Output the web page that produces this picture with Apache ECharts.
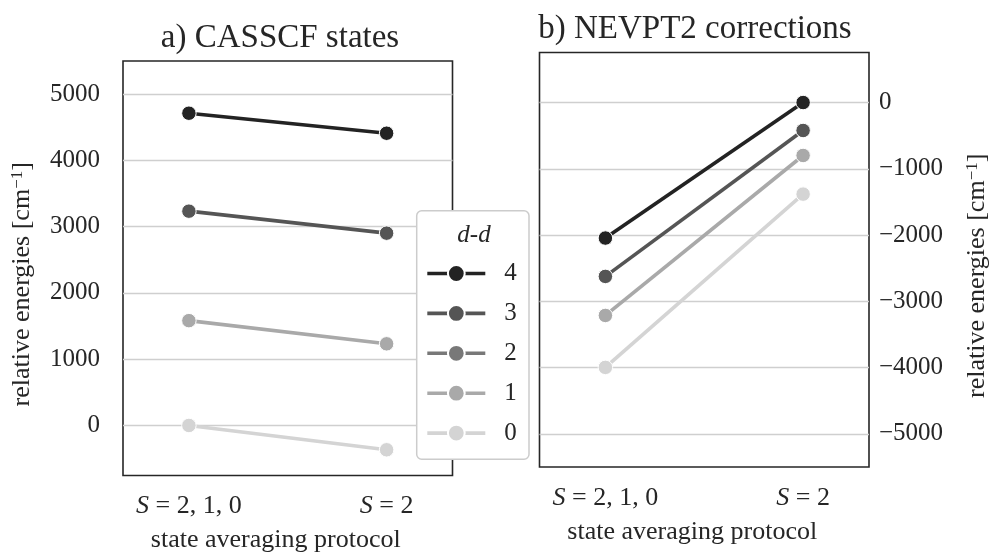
<!DOCTYPE html>
<html>
<head>
<meta charset="utf-8">
<script src="https://cdn.jsdelivr.net/npm/echarts@6/dist/echarts.min.js"></script>
<style>
  html, body { margin: 0; padding: 0; background: #fff; }
  #chart { width: 993px; height: 554px; }
</style>
</head>
<body>
<div id="chart"></div>
<script>
// State averaging protocols (x categories) and d-d excitation levels
const protocols = ['S = 2, 1, 0', 'S = 2'];
const ddLevels = ['4', '3', '2', '1', '0'];

// a) CASSCF relative energies [cm^-1], one value per protocol
const casscf4 = [4712, 4410];
const casscf3 = [3234, 2902];
const casscf2 = [null, null];
const casscf1 = [1582, 1232];
const casscf0 = [0, -367];

// b) NEVPT2 corrections [cm^-1], one value per protocol
const nevpt4 = [-2045, 0];
const nevpt3 = [-2624, -422];
const nevpt2 = [null, null];
const nevpt1 = [-3213, -799];
const nevpt0 = [-3997, -1382];

// Tick labels of the two energy axes
const casscfTicks = [0, 1000, 2000, 3000, 4000, 5000];
const nevptTicks = [-5000, -4000, -3000, -2000, -1000, 0];

const ddColors = ['#232323', '#555555', '#787878', '#a9a9a9', '#d4d4d4'];
const casscfSets = [casscf4, casscf3, casscf2, casscf1, casscf0];
const nevptSets = [nevpt4, nevpt3, nevpt2, nevpt1, nevpt0];

const FONT = 'Liberation Serif';
const INK = '#262626';
const protoIdx = protocols.map((_, i) => i);

function lineSeries(name, values, color, panel) {
  return {
    type: 'line',
    name: name,
    xAxisIndex: panel,
    yAxisIndex: panel,
    data: values.map((v, i) => [protoIdx[i], v]),
    color: color,
    symbol: 'circle',
    symbolSize: 14.5,
    showSymbol: true,
    lineStyle: { width: 3.6, color: color },
    itemStyle: { color: color, borderColor: '#ffffff', borderWidth: 1 },
    emphasis: { disabled: true },
    z: 2
  };
}

const series = [];
ddLevels.forEach((lvl, k) => {
  series.push(lineSeries(lvl, casscfSets[k], ddColors[k], 0));
  series.push(lineSeries(lvl, nevptSets[k], ddColors[k], 1));
});

const minus = v => (v < 0 ? '\u2212' + Math.abs(v) : String(v));
const protoLabel = v => protocols[v].replace('S', '{i|S}');

function xAxis(panel) {
  return {
    gridIndex: panel,
    type: 'value',
    min: -1 / 3,
    max: 4 / 3,
    axisLine: { show: false },
    axisTick: { show: false, customValues: protoIdx },
    splitLine: { show: false },
    axisLabel: {
      customValues: protoIdx,
      formatter: protoLabel,
      margin: 18,
      fontSize: 26,
      fontFamily: FONT,
      color: INK,
      rich: { i: { fontStyle: 'italic', fontSize: 26, fontFamily: FONT, color: INK } }
    },
    name: 'state averaging protocol',
    nameLocation: 'middle',
    nameGap: 52,
    nameTextStyle: { fontSize: 26, fontFamily: FONT, color: INK, padding: [0, 24, 0, 0] }
  };
}

function yAxis(panel, min, max, ticks, side, margin, gap) {
  return {
    gridIndex: panel,
    type: 'value',
    position: side,
    min: min,
    max: max,
    axisLine: { show: false },
    axisTick: { show: false, customValues: ticks },
    axisLabel: {
      customValues: ticks,
      formatter: minus,
      margin: margin,
      fontSize: 25,
      fontFamily: FONT,
      color: INK
    },
    splitLine: { show: true, lineStyle: { color: '#cfcfcf', width: 1.4 } },
    name: 'relative energies [cm{sup|\u22121}]',
    nameLocation: 'middle',
    nameRotate: 90,
    nameGap: gap,
    nameTextStyle: {
      fontSize: 26,
      fontFamily: FONT,
      color: INK,
      padding: [0, 32, 0, 0],
      rich: { sup: { fontSize: 17, fontFamily: FONT, color: INK, verticalAlign: 'top', lineHeight: 17 } }
    }
  };
}

const chart = echarts.init(document.getElementById('chart'), null, { renderer: 'canvas' });
chart.setOption({
  animation: false,
  backgroundColor: '#ffffff',
  grid: [
    { left: 123, top: 61, width: 329.5, height: 414.5, outerBoundsMode: 'none', containLabel: false,
      show: true, borderColor: INK, borderWidth: 1.6, backgroundColor: '#fff' },
    { left: 539.5, top: 52.5, width: 329.5, height: 414.5, outerBoundsMode: 'none', containLabel: false,
      show: true, borderColor: INK, borderWidth: 1.6, backgroundColor: '#fff' }
  ],
  xAxis: [xAxis(0), xAxis(1)],
  yAxis: [
    yAxis(0, -755, 5500, casscfTicks, 'left', 23, 88),
    yAxis(1, -5500, 755, nevptTicks, 'right', 10, 95)
  ],
  legend: {
    data: ddLevels,
    orient: 'vertical',
    left: 425.5,
    top: 261,
    padding: 0,
    itemWidth: 58,
    itemHeight: 21,
    itemGap: 14.9,
    selectedMode: false,
    lineStyle: { width: 3.6 },
    textStyle: { fontSize: 25, fontFamily: FONT, color: INK, padding: [0, 0, 0, 14] },
    z: 6
  },
  graphic: [
    {
      type: 'rect', z: 5,
      shape: { x: 416.7, y: 210.7, width: 112.3, height: 248.6, r: 5 },
      style: { fill: '#ffffff', stroke: '#cccccc', lineWidth: 1.5 }
    },
    {
      type: 'text', z: 6,
      x: 474, y: 235,
      style: { text: 'd-d', font: 'italic 25px "Liberation Serif"', fill: INK, align: 'center', verticalAlign: 'middle' }
    },
    {
      type: 'text', z: 6,
      x: 280, y: 38,
      style: { text: 'a) CASSCF states', font: '33px "Liberation Serif"', fill: INK, align: 'center', verticalAlign: 'middle' }
    },
    {
      type: 'text', z: 6,
      x: 695, y: 29,
      style: { text: 'b) NEVPT2 corrections', font: '33px "Liberation Serif"', fill: INK, align: 'center', verticalAlign: 'middle' }
    }
  ],
  series: series
});
</script>
</body>
</html>
